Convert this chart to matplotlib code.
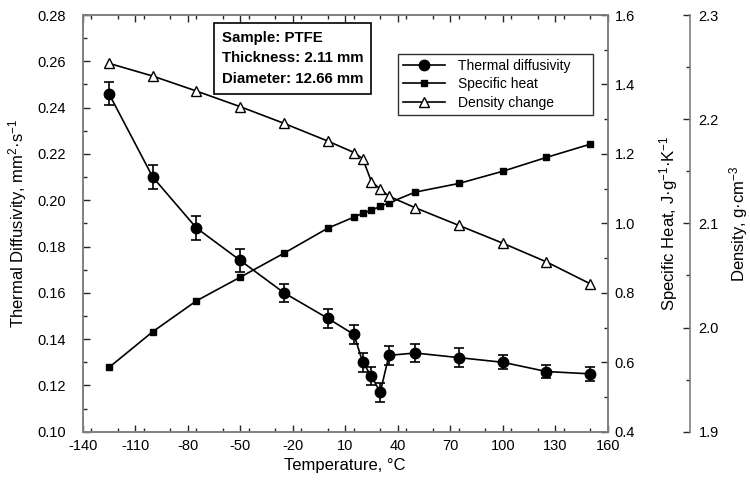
import matplotlib
matplotlib.use("Agg")
import matplotlib.pyplot as plt
from matplotlib.ticker import MultipleLocator, FormatStrFormatter

plt.rcParams['font.family'] = ['Liberation Sans', 'DejaVu Sans']
plt.rcParams['mathtext.fontset'] = 'custom'
plt.rcParams['mathtext.rm'] = 'Liberation Sans'
plt.rcParams['mathtext.it'] = 'Liberation Sans'
plt.rcParams['axes.unicode_minus'] = False

# 온도 (°C)
temp_diff = [-125, -100, -75, -50, -25, 0, 15, 20, 25, 30, 35, 50, 75, 100, 125, 150]
diffusivity = [0.246, 0.210, 0.188, 0.174, 0.160, 0.149, 0.142, 0.130, 0.124, 0.117,
               0.133, 0.134, 0.132, 0.130, 0.126, 0.125]
diff_err = [0.005, 0.005, 0.005, 0.005, 0.004, 0.004, 0.004, 0.004, 0.004, 0.004,
            0.004, 0.004, 0.004, 0.003, 0.003, 0.003]

temp_cp = [-125, -100, -75, -50, -25, 0, 15, 20, 25, 30, 35, 50, 75, 100, 125, 150]
specific_heat = [0.585, 0.688, 0.777, 0.845, 0.914, 0.986, 1.018, 1.029, 1.038, 1.049,
                 1.059, 1.090, 1.115, 1.150, 1.190, 1.228]

temp_rho = [-125, -100, -75, -50, -25, 0, 15, 20, 25, 30, 35, 50, 75, 100, 125, 150]
density = [2.2536, 2.2414, 2.227, 2.212, 2.196, 2.179, 2.168, 2.162, 2.140, 2.133,
           2.126, 2.115, 2.098, 2.081, 2.063, 2.042]

x_ticks = list(range(-140, 161, 30))

spine_col = '0.5'
tick_col = '0.15'

fig = plt.figure(figsize=(7.5, 4.84), dpi=100)
ax = fig.add_axes([0.1103, 0.108, 0.7, 0.861])
ax2 = ax.twinx()
ax3 = ax.twinx()
ax3.spines['right'].set_position(('axes', 1.157))

# 열확산도
h1 = ax.errorbar(temp_diff, diffusivity, yerr=diff_err, color='black', marker='o',
                 markersize=7.5, linewidth=1.2, capsize=3.5, elinewidth=1.2,
                 capthick=1.2, label='Thermal diffusivity')
# 비열
h2, = ax2.plot(temp_cp, specific_heat, color='black', marker='s', markersize=5,
               linewidth=1.2, label='Specific heat')
# 밀도
h3, = ax3.plot(temp_rho, density, color='black', marker='^', markersize=7.5,
               markerfacecolor='white', linewidth=1.2, label='Density change')

ax.set_xlim(-140, 160)
ax.set_ylim(0.10, 0.28)
ax2.set_ylim(0.4, 1.6)
ax3.set_ylim(1.9, 2.3)

ax.set_xticks(x_ticks)
ax.xaxis.set_minor_locator(MultipleLocator(15))
ax.yaxis.set_major_locator(MultipleLocator(0.02))
ax.yaxis.set_minor_locator(MultipleLocator(0.01))
ax.yaxis.set_major_formatter(FormatStrFormatter('%.2f'))
ax2.yaxis.set_major_locator(MultipleLocator(0.2))
ax2.yaxis.set_minor_locator(MultipleLocator(0.1))
ax2.yaxis.set_major_formatter(FormatStrFormatter('%.1f'))
ax3.yaxis.set_major_locator(MultipleLocator(0.1))
ax3.yaxis.set_minor_locator(MultipleLocator(0.05))
ax3.yaxis.set_major_formatter(FormatStrFormatter('%.1f'))

for a in (ax, ax2, ax3):
    for s in a.spines.values():
        s.set_color(spine_col)
        s.set_linewidth(1.2)
    a.tick_params(which='both', direction='in', color=tick_col, labelsize=10.5)
    a.tick_params(which='major', length=5, width=1)
    a.tick_params(which='minor', length=3, width=1)
ax.tick_params(axis='x', which='both', top=True)
ax.tick_params(axis='x', which='major', pad=5)
ax.tick_params(axis='y', which='major', pad=12)
ax2.tick_params(axis='y', which='major', pad=5)
ax3.tick_params(axis='y', which='major', pad=6)
for s in ('left', 'top', 'bottom'):
    ax3.spines[s].set_visible(False)

ax.set_xlabel('Temperature, °C', fontsize=12, labelpad=4)
ax.set_ylabel('Thermal Diffusivity, mm$^2$·s$^{-1}$', fontsize=12, labelpad=6)
ax2.set_ylabel('Specific Heat, J·g$^{-1}$·K$^{-1}$', fontsize=12, labelpad=16)
ax3.set_ylabel('Density, g·cm$^{-3}$', fontsize=12, labelpad=6)

ax.text(0.2648, 0.962, 'Sample: PTFE\nThickness: 2.11 mm\nDiameter: 12.66 mm',
        transform=ax.transAxes, ha='left', va='top', fontsize=10.8, fontweight='bold',
        linespacing=1.6,
        bbox=dict(boxstyle='square,pad=0.5', facecolor='white', edgecolor='black',
                  linewidth=1.2))

# 범례: 오차막대 없이 선+마커만
leg = ax.legend([h1[0], h2, h3], ['Thermal diffusivity', 'Specific heat', 'Density change'],
                loc='upper left', bbox_to_anchor=(0.6006, 0.7648, 0.3714, 0.1416),
                mode='expand', borderaxespad=0,
                fontsize=10, frameon=True, fancybox=False, handlelength=3.0,
                handletextpad=1.0, labelspacing=0.32, borderpad=0.35)
leg.get_frame().set_edgecolor('black')
leg.get_frame().set_linewidth(1.0)
leg.set_zorder(10)

fig.savefig('out.png', dpi=100)
